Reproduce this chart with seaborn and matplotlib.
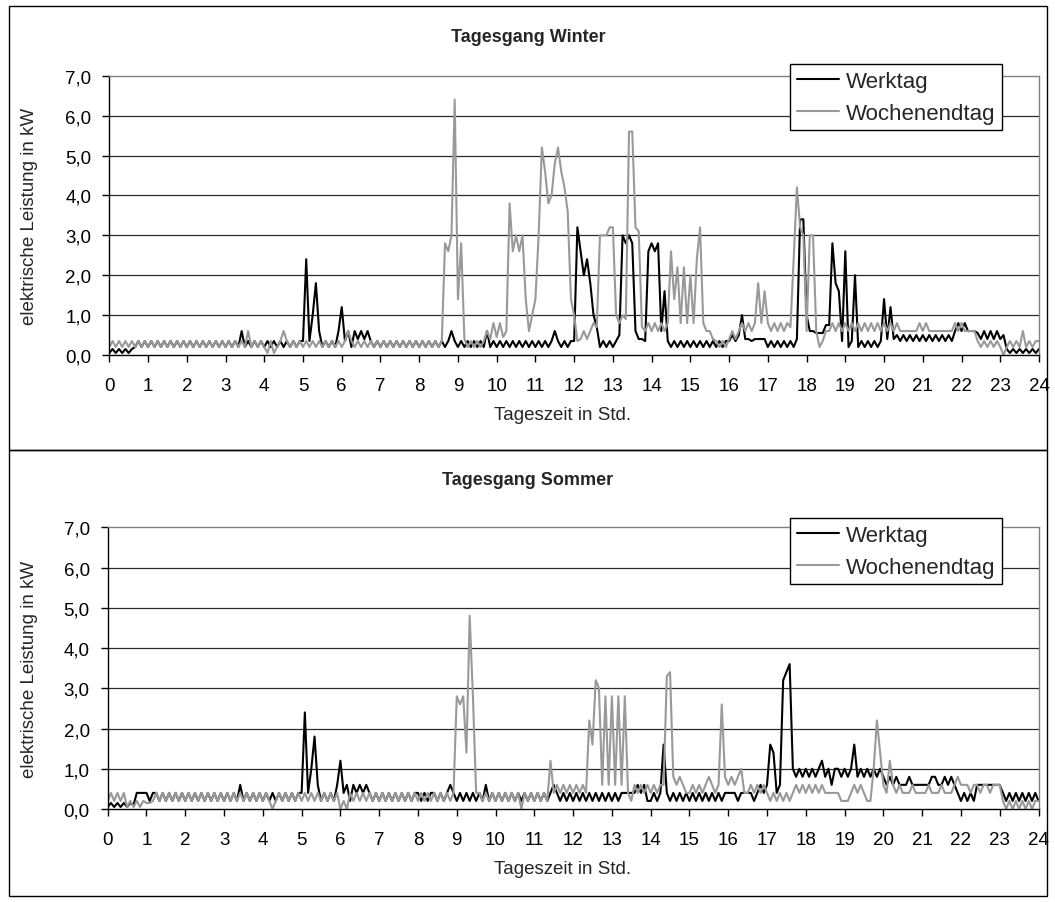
import numpy as np
import pandas as pd
import matplotlib
matplotlib.use("Agg")
import matplotlib.pyplot as plt
import seaborn as sns
from matplotlib.lines import Line2D
from matplotlib.patches import Rectangle

sns.set_theme(style="white")
plt.rcParams["font.family"] = ["Liberation Sans", "DejaVu Sans"]

# Load profiles in kW, 5-minute values, one row per hour (last row also holds 24:00)
winter_werktag = [
    [0.05, 0.15, 0.05, 0.15, 0.05, 0.15, 0.05, 0.15, 0.2, 0.35, 0.2, 0.35],
    [0.2, 0.35, 0.2, 0.35, 0.2, 0.35, 0.2, 0.35, 0.2, 0.35, 0.2, 0.35],
    [0.2, 0.35, 0.2, 0.35, 0.2, 0.35, 0.2, 0.35, 0.2, 0.35, 0.2, 0.35],
    [0.2, 0.35, 0.2, 0.35, 0.2, 0.6, 0.2, 0.35, 0.2, 0.35, 0.2, 0.35],
    [0.2, 0.35, 0.2, 0.35, 0.2, 0.35, 0.2, 0.35, 0.2, 0.35, 0.2, 0.35],
    [0.35, 2.4, 0.35, 1.0, 1.8, 0.6, 0.2, 0.35, 0.2, 0.35, 0.2, 0.6],
    [1.2, 0.35, 0.6, 0.2, 0.6, 0.4, 0.6, 0.4, 0.6, 0.35, 0.2, 0.35],
    [0.2, 0.35, 0.2, 0.35, 0.2, 0.35, 0.2, 0.35, 0.2, 0.35, 0.2, 0.35],
    [0.2, 0.35, 0.2, 0.35, 0.2, 0.35, 0.2, 0.35, 0.2, 0.35, 0.6, 0.35],
    [0.2, 0.35, 0.2, 0.35, 0.2, 0.35, 0.2, 0.35, 0.2, 0.6, 0.2, 0.35],
    [0.2, 0.35, 0.2, 0.35, 0.2, 0.35, 0.2, 0.35, 0.2, 0.35, 0.2, 0.35],
    [0.2, 0.35, 0.2, 0.35, 0.2, 0.35, 0.6, 0.35, 0.2, 0.35, 0.2, 0.35],
    [0.35, 3.2, 2.6, 2.0, 2.4, 1.8, 1.0, 0.7, 0.2, 0.35, 0.2, 0.35],
    [0.2, 0.35, 0.5, 3.0, 2.8, 3.0, 2.8, 0.6, 0.4, 0.4, 0.35, 2.6],
    [2.8, 2.6, 2.8, 0.6, 1.6, 0.35, 0.2, 0.35, 0.2, 0.35, 0.2, 0.35],
    [0.2, 0.35, 0.2, 0.35, 0.2, 0.35, 0.2, 0.35, 0.2, 0.35, 0.2, 0.35],
    [0.35, 0.5, 0.35, 0.5, 1.0, 0.4, 0.4, 0.35, 0.4, 0.4, 0.4, 0.4],
    [0.2, 0.35, 0.2, 0.35, 0.2, 0.35, 0.2, 0.35, 0.2, 0.4, 3.4, 3.4],
    [1.0, 0.6, 0.6, 0.55, 0.55, 0.55, 0.75, 0.75, 2.8, 1.8, 1.6, 0.35],
    [2.6, 0.2, 0.35, 2.0, 0.2, 0.35, 0.2, 0.35, 0.2, 0.35, 0.2, 0.35],
    [1.4, 0.4, 1.2, 0.4, 0.5, 0.35, 0.5, 0.35, 0.5, 0.35, 0.5, 0.35],
    [0.5, 0.35, 0.5, 0.35, 0.5, 0.35, 0.5, 0.35, 0.5, 0.35, 0.6, 0.8],
    [0.6, 0.8, 0.6, 0.6, 0.6, 0.55, 0.4, 0.6, 0.4, 0.6, 0.4, 0.6],
    [0.4, 0.5, 0.15, 0.05, 0.15, 0.05, 0.15, 0.05, 0.15, 0.05, 0.15, 0.05, 0.15],
]

winter_wochenende = [
    [0.2, 0.35, 0.2, 0.35, 0.2, 0.35, 0.2, 0.35, 0.2, 0.35, 0.2, 0.35],
    [0.2, 0.35, 0.2, 0.35, 0.2, 0.35, 0.2, 0.35, 0.2, 0.35, 0.2, 0.35],
    [0.2, 0.35, 0.2, 0.35, 0.2, 0.35, 0.2, 0.35, 0.2, 0.35, 0.2, 0.35],
    [0.2, 0.35, 0.2, 0.35, 0.2, 0.35, 0.2, 0.6, 0.2, 0.35, 0.2, 0.35],
    [0.2, 0.05, 0.35, 0.05, 0.2, 0.35, 0.6, 0.35, 0.2, 0.35, 0.2, 0.35],
    [0.2, 0.35, 0.2, 0.35, 0.2, 0.35, 0.2, 0.35, 0.2, 0.35, 0.2, 0.35],
    [0.2, 0.35, 0.6, 0.35, 0.2, 0.35, 0.2, 0.35, 0.2, 0.35, 0.2, 0.35],
    [0.2, 0.35, 0.2, 0.35, 0.2, 0.35, 0.2, 0.35, 0.2, 0.35, 0.2, 0.35],
    [0.2, 0.35, 0.2, 0.35, 0.2, 0.35, 0.2, 0.35, 2.8, 2.6, 3.0, 6.4],
    [1.4, 2.8, 0.4, 0.2, 0.35, 0.2, 0.35, 0.2, 0.35, 0.6, 0.4, 0.8],
    [0.45, 0.8, 0.45, 0.6, 3.8, 2.6, 3.0, 2.6, 3.0, 1.4, 0.6, 1.0],
    [1.4, 3.0, 5.2, 4.6, 3.8, 4.0, 4.8, 5.2, 4.6, 4.2, 3.6, 1.4],
    [1.0, 0.35, 0.4, 0.6, 0.4, 0.6, 0.8, 0.7, 3.0, 3.0, 3.0, 3.2],
    [3.2, 1.0, 0.8, 1.0, 0.9, 5.6, 5.6, 3.2, 3.1, 0.7, 0.6, 0.8],
    [0.6, 0.8, 0.6, 0.8, 0.6, 0.8, 2.6, 1.4, 2.2, 0.8, 2.2, 0.8],
    [2.0, 0.8, 2.4, 3.2, 0.8, 0.6, 0.6, 0.4, 0.35, 0.2, 0.35, 0.2],
    [0.4, 0.6, 0.4, 0.6, 0.8, 0.6, 0.8, 0.6, 0.8, 1.8, 0.8, 1.6],
    [0.8, 0.6, 0.8, 0.6, 0.8, 0.6, 0.8, 0.7, 2.4, 4.2, 3.2, 3.0],
    [0.6, 3.0, 3.0, 0.6, 0.2, 0.35, 0.6, 0.6, 0.8, 0.6, 0.8, 0.6],
    [0.8, 0.6, 0.8, 0.6, 0.8, 0.6, 0.8, 0.6, 0.8, 0.6, 0.8, 0.6],
    [0.8, 0.6, 0.8, 0.6, 0.8, 0.6, 0.6, 0.6, 0.6, 0.6, 0.6, 0.8],
    [0.6, 0.8, 0.6, 0.6, 0.6, 0.6, 0.6, 0.6, 0.6, 0.6, 0.8, 0.6],
    [0.8, 0.6, 0.6, 0.6, 0.6, 0.35, 0.2, 0.35, 0.2, 0.35, 0.2, 0.35],
    [0.2, 0.0, 0.2, 0.35, 0.2, 0.35, 0.2, 0.6, 0.2, 0.35, 0.2, 0.35, 0.35],
]

sommer_werktag = [
    [0.05, 0.15, 0.05, 0.15, 0.05, 0.15, 0.05, 0.15, 0.1, 0.4, 0.4, 0.4],
    [0.4, 0.2, 0.4, 0.4, 0.2, 0.4, 0.2, 0.4, 0.2, 0.4, 0.2, 0.4],
    [0.2, 0.4, 0.2, 0.4, 0.2, 0.4, 0.2, 0.4, 0.2, 0.4, 0.2, 0.4],
    [0.2, 0.4, 0.2, 0.4, 0.2, 0.6, 0.2, 0.4, 0.2, 0.4, 0.2, 0.4],
    [0.2, 0.4, 0.2, 0.4, 0.2, 0.4, 0.2, 0.4, 0.2, 0.4, 0.2, 0.4],
    [0.4, 2.4, 0.4, 1.0, 1.8, 0.6, 0.2, 0.4, 0.2, 0.4, 0.2, 0.6],
    [1.2, 0.4, 0.6, 0.2, 0.6, 0.4, 0.6, 0.4, 0.6, 0.4, 0.2, 0.4],
    [0.2, 0.4, 0.2, 0.4, 0.2, 0.4, 0.2, 0.4, 0.2, 0.4, 0.2, 0.4],
    [0.4, 0.2, 0.4, 0.2, 0.4, 0.4, 0.2, 0.4, 0.2, 0.4, 0.6, 0.4],
    [0.2, 0.4, 0.2, 0.4, 0.2, 0.4, 0.2, 0.4, 0.2, 0.6, 0.2, 0.4],
    [0.2, 0.4, 0.2, 0.4, 0.2, 0.4, 0.2, 0.4, 0.2, 0.4, 0.2, 0.4],
    [0.2, 0.4, 0.2, 0.4, 0.2, 0.4, 0.6, 0.4, 0.2, 0.4, 0.2, 0.4],
    [0.2, 0.4, 0.2, 0.4, 0.2, 0.4, 0.2, 0.4, 0.2, 0.4, 0.2, 0.4],
    [0.2, 0.4, 0.2, 0.4, 0.4, 0.4, 0.4, 0.4, 0.6, 0.4, 0.6, 0.2],
    [0.2, 0.4, 0.2, 0.4, 1.6, 0.4, 0.2, 0.4, 0.2, 0.4, 0.2, 0.4],
    [0.2, 0.4, 0.2, 0.4, 0.2, 0.4, 0.2, 0.4, 0.2, 0.4, 0.2, 0.4],
    [0.4, 0.4, 0.4, 0.2, 0.4, 0.4, 0.4, 0.4, 0.2, 0.4, 0.6, 0.4],
    [0.6, 1.6, 1.4, 0.4, 0.6, 3.2, 3.4, 3.6, 1.0, 0.8, 1.0, 0.8],
    [1.0, 0.8, 1.0, 0.8, 1.0, 1.2, 0.8, 1.0, 0.6, 1.0, 1.0, 0.8],
    [1.0, 0.8, 1.0, 1.6, 0.8, 1.0, 0.8, 1.0, 0.8, 1.0, 0.8, 1.0],
    [0.8, 0.6, 0.8, 0.6, 0.8, 0.6, 0.6, 0.6, 0.8, 0.6, 0.6, 0.6],
    [0.6, 0.6, 0.6, 0.8, 0.8, 0.6, 0.6, 0.8, 0.6, 0.8, 0.6, 0.4],
    [0.2, 0.4, 0.2, 0.4, 0.2, 0.6, 0.6, 0.6, 0.6, 0.6, 0.6, 0.6],
    [0.6, 0.4, 0.2, 0.4, 0.2, 0.4, 0.2, 0.4, 0.2, 0.4, 0.2, 0.4, 0.2],
]

sommer_wochenende = [
    [0.2, 0.4, 0.2, 0.4, 0.2, 0.4, 0.05, 0.2, 0.05, 0.2, 0.05, 0.2],
    [0.15, 0.15, 0.2, 0.4, 0.2, 0.4, 0.2, 0.4, 0.2, 0.4, 0.2, 0.4],
    [0.2, 0.4, 0.2, 0.4, 0.2, 0.4, 0.2, 0.4, 0.2, 0.4, 0.2, 0.4],
    [0.2, 0.4, 0.2, 0.4, 0.2, 0.4, 0.2, 0.4, 0.2, 0.4, 0.2, 0.4],
    [0.2, 0.4, 0.2, 0.0, 0.2, 0.4, 0.2, 0.4, 0.2, 0.4, 0.2, 0.4],
    [0.2, 0.4, 0.2, 0.4, 0.2, 0.4, 0.2, 0.4, 0.2, 0.4, 0.2, 0.4],
    [0.0, 0.2, 0.0, 0.4, 0.2, 0.4, 0.2, 0.4, 0.2, 0.4, 0.2, 0.4],
    [0.2, 0.4, 0.2, 0.4, 0.2, 0.4, 0.2, 0.4, 0.2, 0.4, 0.2, 0.4],
    [0.2, 0.4, 0.2, 0.4, 0.2, 0.4, 0.2, 0.4, 0.2, 0.4, 0.2, 0.4],
    [2.8, 2.6, 2.8, 1.4, 4.8, 2.8, 0.4, 0.4, 0.2, 0.4, 0.2, 0.4],
    [0.2, 0.4, 0.2, 0.4, 0.2, 0.4, 0.2, 0.4, 0.0, 0.4, 0.2, 0.4],
    [0.2, 0.4, 0.2, 0.4, 0.2, 1.2, 0.4, 0.6, 0.4, 0.6, 0.4, 0.6],
    [0.4, 0.6, 0.4, 0.6, 0.4, 2.2, 1.6, 3.2, 3.0, 0.6, 2.8, 0.6],
    [2.8, 0.6, 2.8, 0.6, 2.8, 0.4, 0.2, 0.6, 0.4, 0.6, 0.4, 0.6],
    [0.4, 0.6, 0.4, 0.6, 0.6, 3.3, 3.4, 0.8, 0.6, 0.8, 0.6, 0.4],
    [0.4, 0.6, 0.4, 0.6, 0.4, 0.6, 0.8, 0.6, 0.4, 0.6, 2.6, 0.8],
    [0.6, 0.8, 0.6, 0.8, 1.0, 0.4, 0.4, 0.6, 0.4, 0.6, 0.4, 0.6],
    [0.4, 0.2, 0.4, 0.2, 0.4, 0.2, 0.4, 0.2, 0.4, 0.6, 0.4, 0.6],
    [0.4, 0.6, 0.4, 0.6, 0.4, 0.6, 0.4, 0.4, 0.4, 0.4, 0.4, 0.2],
    [0.2, 0.2, 0.4, 0.6, 0.4, 0.6, 0.4, 0.2, 0.2, 1.0, 2.2, 1.4],
    [0.6, 0.4, 1.2, 0.6, 0.4, 0.6, 0.4, 0.4, 0.4, 0.6, 0.4, 0.4],
    [0.4, 0.4, 0.6, 0.4, 0.4, 0.4, 0.6, 0.4, 0.4, 0.4, 0.6, 0.8],
    [0.6, 0.6, 0.6, 0.4, 0.6, 0.6, 0.4, 0.6, 0.6, 0.4, 0.6, 0.6],
    [0.6, 0.2, 0.0, 0.2, 0.0, 0.2, 0.0, 0.2, 0.0, 0.2, 0.0, 0.2, 0.2],
]

series_labels = ["Werktag", "Wochenendtag"]
series_colors = ["#000000", "#999999"]
hour_ticks = list(range(0, 25))
power_ticks = [0, 1, 2, 3, 4, 5, 6, 7]
power_tick_labels = ["0,0", "1,0", "2,0", "3,0", "4,0", "5,0", "6,0", "7,0"]
panel_titles = ["Tagesgang Winter", "Tagesgang Sommer"]
x_title = "Tageszeit in Std."
y_title = "elektrische Leistung in kW"

W, H = 1055, 903


def flatten(rows):
    return [v for row in rows for v in row]


def long_frame(werktag_rows, wochenende_rows):
    a = flatten(werktag_rows)
    b = flatten(wochenende_rows)
    t = np.arange(len(a)) / 12.0
    return pd.DataFrame({
        "Stunde": np.concatenate([t, t]),
        "Leistung": a + b,
        "Tag": [series_labels[0]] * len(a) + [series_labels[1]] * len(b),
    })


fig = plt.figure(figsize=(W / 100, H / 100), dpi=100)
fig.patch.set_facecolor("white")

# pixel geometry of each chart block:
# (plot left, plot right, y of 7.0, y of 0.0, frame top, frame bottom, legend top)
blocks = [
    (109.3, 1039.0, 76.7, 356.0, 7, 451, 65),
    (107.7, 1038.5, 528.3, 810.0, 451, 897, 519),
]
datasets = [
    long_frame(winter_werktag, winter_wochenende),
    long_frame(sommer_werktag, sommer_wochenende),
]

for (x0, x1, ytop, ybot, ftop, fbot, legtop), df, title in zip(blocks, datasets, panel_titles):
    # outer chart frame
    fig.add_artist(Rectangle((9 / W, 1 - fbot / H), (1047 - 9) / W, (fbot - ftop) / H,
                             transform=fig.transFigure, fill=False, ec="black", lw=1.0))
    ax = fig.add_axes([x0 / W, 1 - ybot / H, (x1 - x0) / W, (ybot - ytop) / H])
    ax.set_facecolor("white")
    for yv in power_ticks[1:-1]:
        ax.axhline(yv, color="#2a2a2a", lw=0.9, zorder=0)
    sns.lineplot(data=df, x="Stunde", y="Leistung", hue="Tag", hue_order=series_labels,
                 palette=dict(zip(series_labels, series_colors)), estimator=None,
                 lw=1.5, legend=False, ax=ax)
    ax.set_xlim(0, 24)
    ax.set_ylim(0, 7)
    ax.set_xticks(hour_ticks)
    ax.set_xticklabels([str(h) for h in hour_ticks])
    ax.set_yticks(power_ticks)
    ax.set_yticklabels(power_tick_labels)
    ax.set_xlabel("")
    ax.set_ylabel("")
    ax.tick_params(axis="both", direction="out", length=5, width=1, color="black",
                   labelsize=13.5, labelcolor="black", bottom=True, left=True)
    ax.tick_params(axis="x", pad=11)
    ax.tick_params(axis="y", pad=8)
    ax.spines["left"].set_color("black")
    ax.spines["bottom"].set_color("black")
    ax.spines["top"].set_color("#808080")
    ax.spines["right"].set_color("#808080")
    for s in ax.spines.values():
        s.set_linewidth(1.0)

    fig.text(528 / W, 1 - (ftop + 30) / H, title, ha="center", va="center",
             fontsize=13, fontweight="bold")
    fig.text(563 / W, 1 - (ybot + 60) / H, x_title, ha="center", va="center", fontsize=13.5)
    fig.text(30 / W, 1 - (ytop + ybot) / 2 / H, y_title, ha="center", va="center",
             rotation=90, fontsize=13.5)

    handles = [Line2D([], [], color=c, lw=1.5) for c in series_colors]
    leg = ax.legend(handles, series_labels, loc="upper right",
                    bbox_to_anchor=(1002 / W, 1 - legtop / H), bbox_transform=fig.transFigure,
                    frameon=True, fancybox=False, framealpha=1, edgecolor="black",
                    fontsize=16, handlelength=1.9, handletextpad=0.3, borderpad=0.3,
                    labelspacing=0.5, borderaxespad=0)
    leg.get_frame().set_linewidth(1.0)

fig.savefig("out.png", dpi=100, facecolor="white")
